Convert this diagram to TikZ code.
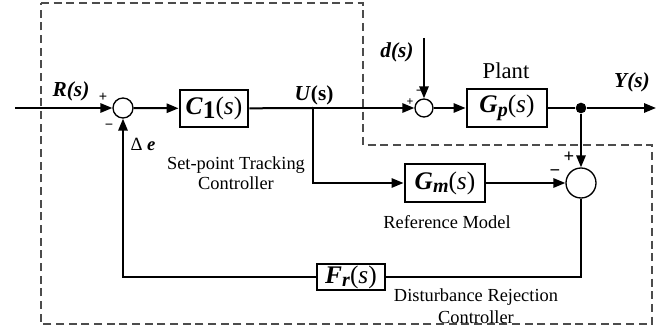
\documentclass[tikz,border=0pt]{standalone}
\usepackage{fontspec}
\setmainfont{Liberation Serif}
\usetikzlibrary{arrows.meta}

\newcommand{\tfname}[2]{\textbf{\textit{#1}}\raisebox{-0.3ex}{\fontsize{15}{15}\selectfont\textbf{\textit{#2}}}(\textit{s})}

\begin{document}
\begin{tikzpicture}[x=0.75pt,y=-0.75pt,
  wire/.style={line width=1.5pt},
  arr/.style={wire,-{Triangle[length=9pt,width=7pt]}},
  blk/.style={draw,line width=2.2pt,inner sep=0pt,font=\fontsize{19}{20}\selectfont},
  sumc/.style={circle,draw,line width=1pt,inner sep=0pt,fill=white},
  dotc/.style={circle,fill,inner sep=0pt,minimum size=8pt},
  lbl/.style={font=\fontsize{13.8}{15}\selectfont},
  sig/.style={font=\fontsize{16}{18}\selectfont\bfseries\itshape},
  sgn/.style={font=\fontsize{11}{12}\selectfont\bfseries,inner sep=0pt},
  frame/.style={line width=1.1pt,gray!60!black,dash pattern=on 6pt off 3.5pt}]
\useasboundingbox (0,0) rectangle (672,334);

% dashed outline of the controller part
\coordinate (f1) at (41,3);
\coordinate (f2) at (363,3);
\coordinate (f3) at (363,145);
\coordinate (f4) at (652,145);
\coordinate (f5) at (652,324);
\coordinate (f6) at (41,324);
\draw[frame] (f1) -- (f2) -- (f3) -- (f4) -- (f5) -- (f6) -- cycle;

% summing junctions
\node[sumc,minimum size=15pt] (s1) at (123,108) {};
\node[sumc,minimum size=13.5pt] (s2) at (424,108) {};
\node[sumc,minimum size=22.5pt] (s3) at (581,183) {};

% blocks
\node[blk,minimum width=51pt,minimum height=27.75pt] (c1) at (214,108.5) {\textbf{\textit{C}}\raisebox{-0.35ex}{\textbf{1}}(\textit{s})};
\node[blk,minimum width=60pt,minimum height=28.5pt] (gp) at (507,108) {\tfname{G}{p}};
\node[blk,minimum width=60pt,minimum height=28.5pt] (gm) at (445,183) {\tfname{G}{m}};
\node[blk,minimum width=51pt,minimum height=19.5pt] (fr) at (351,277) {\tfname{F}{r}};

% signal points
\coordinate (in) at (15,108);
\coordinate (u) at (313,108);
\coordinate (d) at (424,38);
\node[dotc] (y) at (581,108) {};
\coordinate (out) at (656,108);

% connectors
\draw[arr] (in) -- (s1);
\draw[arr] (s1) -- (c1);
\draw[wire] (c1) -- (u);
\draw[arr] (u) -- (s2);
\draw[arr] (u) |- (gm);
\draw[arr] (gm) -- (s3);
\draw[arr] (d) -- (s2);
\draw[arr] (s2) -- (gp);
\draw[wire] (gp) -- (y);
\draw[arr] (y) -- (out);
\draw[arr] (y) -- (s3);
\draw[wire] (s3) |- (fr);
\draw[arr] (fr) -| (s1);

% signal names and signs
\node[sig] at (71,91) {R(s)};
\node[sgn] at (103,97) {+};
\node[sgn] at (109,127) {−};
\node[font=\fontsize{14}{15}\selectfont] at (143,144) {Δ \textbf{\textit{e}}};
\node[font=\fontsize{16}{18}\selectfont\bfseries] at (314,95) {\textit{U}(s)};
\node[sig] at (397,52) {d(s)};
\node[sgn,font=\fontsize{9}{10}\selectfont\bfseries] at (410,102) {+};
\node[sgn] at (420,93) {−};
\node[sig] at (632,82) {Y(s)};
\node[sgn,font=\fontsize{14}{15}\selectfont\bfseries] at (569,157) {+};
\node[sgn,font=\fontsize{14}{15}\selectfont\bfseries] at (555,173) {−};

% block descriptions
\node[lbl,align=center] at (236,173) {Set-point Tracking\\Controller};
\node[font=\fontsize{17}{18}\selectfont] at (506,71) {Plant};
\node[lbl] at (447,222) {Reference Model};
\node[lbl,align=center,font=\fontsize{13.8}{16.5}\selectfont] at (476,306) {Disturbance Rejection\\Controller};
\end{tikzpicture}
\end{document}
